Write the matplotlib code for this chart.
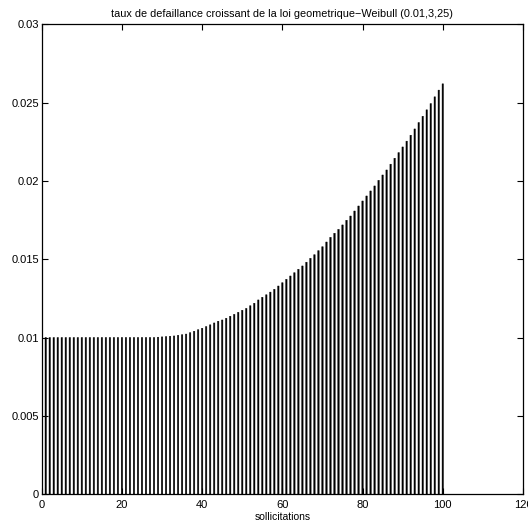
import matplotlib
matplotlib.use("Agg")
import matplotlib.pyplot as plt
import numpy as np

plt.rcParams['font.family'] = ['Liberation Sans', 'DejaVu Sans']

# number of solicitations k = 1..100
k = list(range(1, 101))

# increasing failure rate h(k) of the geometric-Weibull law (0.01, 3, 25)
rate_flat = [0.0100] * 28
rate_rise = [
    0.01002, 0.01004, 0.01006, 0.01008, 0.01010, 0.01014, 0.01018, 0.01022,
    0.01031, 0.01040, 0.01050, 0.01059, 0.01070, 0.01081, 0.01093, 0.01104,
    0.01112, 0.01123, 0.01136, 0.01148, 0.01161, 0.01174, 0.01186, 0.01203,
    0.01219, 0.01240, 0.01257, 0.01273, 0.01290, 0.01308, 0.01329, 0.01350,
    0.01372, 0.01393, 0.01414, 0.01436, 0.01457, 0.01481, 0.01506, 0.01529,
    0.01555, 0.01580, 0.01610, 0.01640, 0.01666, 0.01691, 0.01719, 0.01749,
    0.01776, 0.01808, 0.01840, 0.01872, 0.01904, 0.01936, 0.01968, 0.02004,
    0.02038, 0.02070, 0.02107, 0.02145, 0.02181, 0.02217, 0.02254, 0.02292,
    0.02332, 0.02373, 0.02413, 0.02454, 0.02494, 0.02537, 0.02580, 0.02620,
]
rate = rate_flat + rate_rise

x_ticks = [0, 20, 40, 60, 80, 100, 120]
y_ticks = [0, 0.005, 0.01, 0.015, 0.02, 0.025, 0.03]
y_tick_labels = ["0", "0.005", "0.01", "0.015", "0.02", "0.025", "0.03"]

fig = plt.figure(figsize=(5.28, 5.29), dpi=100)
ax = fig.add_axes([0.079, 0.066, 0.9115, 0.888])

bars = ax.bar(k, rate, width=0.36, color="black", edgecolor="black",
              linewidth=0.3)
for b in bars:
    b.set_snap(False)

ax.set_xlim(0, 120)
ax.set_ylim(0, 0.03)
ax.set_xticks(x_ticks)
ax.set_xticklabels([str(t) for t in x_ticks])
ax.set_yticks(y_ticks)
ax.set_yticklabels(y_tick_labels)

ax.tick_params(direction="in", length=4, width=0.8, labelsize=8,
               top=True, right=True, pad=2)
ax.tick_params(axis="x", pad=4)
for s in ax.spines.values():
    s.set_linewidth(0.9)

ax.set_title("taux de defaillance croissant de la loi geometrique\u2212Weibull (0.01,3,25)",
             fontsize=7.8, pad=5)
ax.set_xlabel("sollicitations", fontsize=7.5, labelpad=2)

fig.savefig("out.png", dpi=100)
